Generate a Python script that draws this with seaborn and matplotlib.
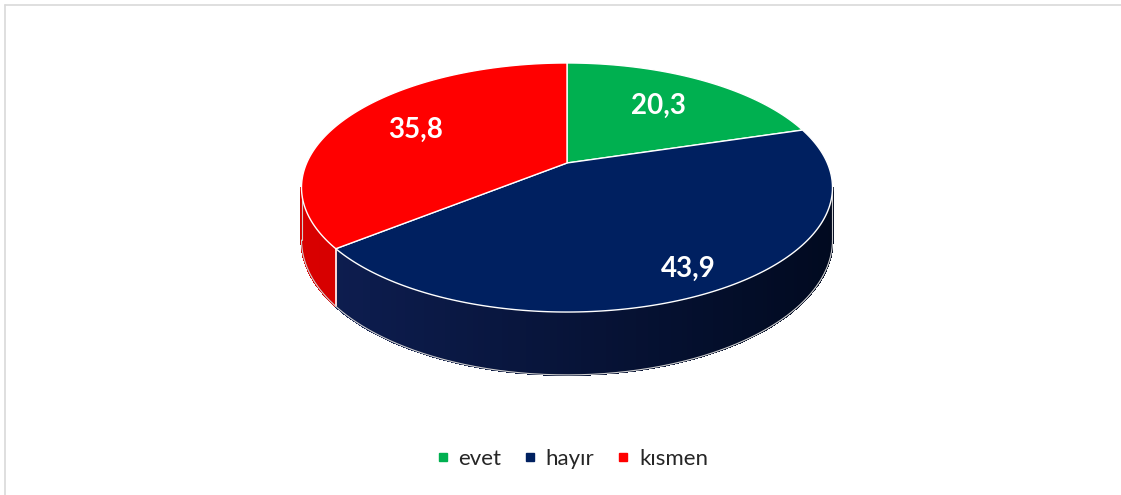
import numpy as np
import matplotlib
matplotlib.use('Agg')
import matplotlib.pyplot as plt
from matplotlib.lines import Line2D
from matplotlib.colors import to_rgb
import seaborn as sns

labels = ['evet', 'hayır', 'kısmen']
values = [20.3, 43.9, 35.8]
value_text = ['20,3', '43,9', '35,8']
colors = ['#00b050', '#002060', '#ff0000']
side_left = ['#009040', '#0e1e52', '#d80000']
side_right = ['#008038', '#010a20', '#c80000']
label_radius = [0.65, 0.85, 0.68]

# perspective projection of the unit disc onto the picture (pixels)
CX, CY = 567, 163
A, B, C = 260.3, 119.7, 0.1968
DEPTH = 50.5


def top(phi, r=1.0):
    u = r * np.sin(phi)
    v = r * np.cos(phi)
    d = 1 + C * v
    return CX + A * u / d, CY - B * v / d


def bottom(phi):
    x, y = top(phi)
    return x, y + DEPTH / (1 + C * np.cos(phi))


def mix(c0, c1, t):
    a, b = np.array(to_rgb(c0)), np.array(to_rgb(c1))
    return tuple(a + (b - a) * t)


sns.set_theme(style='white')
plt.rcParams['font.family'] = ['Lato', 'DejaVu Sans']

fig = plt.figure(figsize=(11.21, 4.95), dpi=100)
ax = fig.add_axes([0, 0, 1, 1])
ax.set_xlim(0, 1121)
ax.set_ylim(495, 0)
ax.axis('off')

frac = np.array(values) / sum(values)
ends = np.cumsum(frac) * 2 * np.pi
starts = ends - frac * 2 * np.pi

lo = np.arccos(-C)
hi = 2 * np.pi - lo
xleft = top(hi)[0]
xright = top(lo)[0]

# side walls
for i in range(len(values)):
    a0, a1 = max(starts[i], lo), min(ends[i], hi)
    if a1 <= a0:
        continue
    steps = np.linspace(a0, a1, 120)
    for s0, s1 in zip(steps[:-1], steps[1:]):
        x0, y0 = top(s0)
        x1, y1 = top(s1)
        bx0, by0 = bottom(s0)
        bx1, by1 = bottom(s1)
        t = ((x0 + x1) / 2 - xleft) / (xright - xleft)
        col = mix(side_left[i], side_right[i], np.clip(t, 0, 1))
        ax.fill([x0, x1, bx1, bx0], [y0, y1, by1, by0], color=col, lw=0.9, ec=col,
                antialiased=False, zorder=1)
    # boundary line between walls
    if lo < starts[i] < hi:
        tx, ty = top(starts[i])
        bx, by = bottom(starts[i])
        ax.plot([tx, bx], [ty, by], color='white', lw=1.2, zorder=2)

# outer silhouette of the walls
ph = np.linspace(lo, hi, 300)
bx, by = bottom(ph)
ax.plot(bx, by, color='#d0d0d0', lw=0.8, zorder=2)
for a in (lo, hi):
    tx, ty = top(a)
    ex, ey = bottom(a)
    ax.plot([tx, ex], [ty, ey], color='#d0d0d0', lw=0.8, zorder=2)

# top face
for i in range(len(values)):
    ph = np.linspace(starts[i], ends[i], 200)
    x, y = top(ph)
    px = np.concatenate([[CX], x])
    py = np.concatenate([[CY], y])
    ax.fill(px, py, color=colors[i], ec='white', lw=1.0, zorder=3)
    mid = (starts[i] + ends[i]) / 2
    lx, ly = top(mid, label_radius[i])
    ax.text(lx, ly, value_text[i], color='white', fontsize=20, fontweight='bold',
            ha='center', va='center', zorder=4)

# light frame (top and left edges)
fig.add_artist(Line2D([4.5 / 1121, 4.5 / 1121], [0, 1 - 4.5 / 495], color='#d9d9d9', lw=1.2))
fig.add_artist(Line2D([4.5 / 1121, 1], [1 - 4.5 / 495, 1 - 4.5 / 495], color='#d9d9d9', lw=1.2))

handles = [Line2D([], [], marker='s', ls='', color=c, markersize=5.8) for c in colors]
fig.legend(handles, labels, loc='center', bbox_to_anchor=(572 / 1121, 1 - 459 / 495),
           ncol=3, frameon=False, fontsize=16, handlelength=0.6, handletextpad=0.4,
           columnspacing=1.0)

fig.savefig('out.png', dpi=100)
